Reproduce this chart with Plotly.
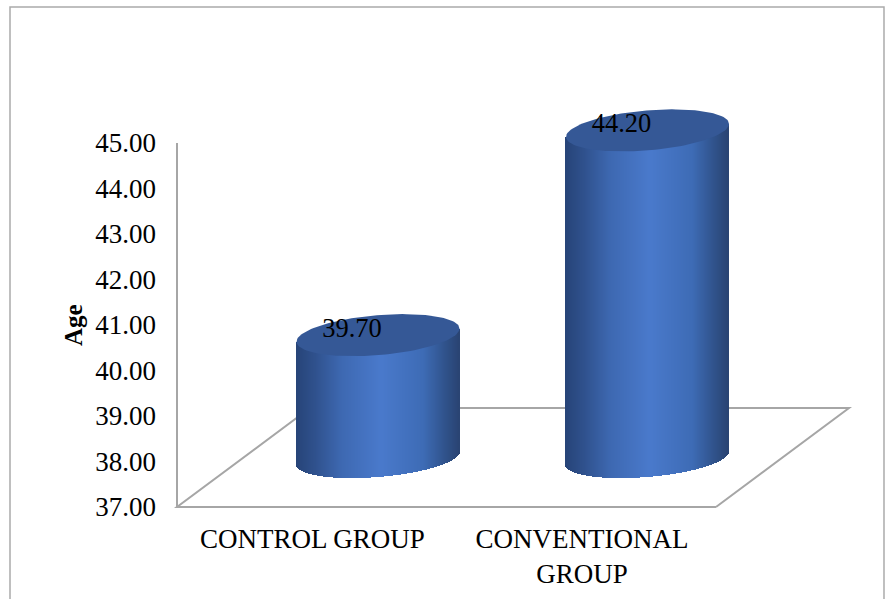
import numpy as np
import plotly.graph_objects as go

categories = ["CONTROL GROUP", "CONVENTIONAL<br>GROUP"]
ages = [39.70, 44.20]
y_ticks = [37, 38, 39, 40, 41, 42, 43, 44, 45]
axis_title = "Age"

W, H = 885, 599
L, R, T, B = 177, 849, 100, 507   # plot area is large enough to hold the cylinders
TICK_TOP = 143
UNIT_X = 269.5
X0 = 312.5
UNIT_Y = (B - TICK_TOP) / 8

depth_dx = (378 - X0) / UNIT_X      # cylinders sit further back than the category axis
depth_dy = 49 / UNIT_Y
half_w = 81.5 / UNIT_X
semi_b = 20 / UNIT_Y
tilt = 6.5 / UNIT_Y

stops = [(0.0, (39, 68, 120)), (0.12, (48, 82, 142)), (0.28, (62, 105, 178)),
         (0.52, (74, 122, 204)), (0.78, (62, 108, 182)), (0.92, (48, 82, 138)), (1.0, (42, 68, 115))]
sp = [s[0] for s in stops]


def shade(t):
    return "rgb(%d,%d,%d)" % tuple(np.interp(t, sp, [s[1][i] for s in stops]) for i in range(3))


fig = go.Figure()
N = 163
for i, val in enumerate(ages):
    cx = i + depth_dx
    u = (np.arange(N) + 0.5) / N * 2 - 1          # -1..1 across the cylinder
    xs = cx + u * half_w
    base_c = y_ticks[0] + depth_dy
    top_c = val + depth_dy
    bottom = base_c + u * tilt - semi_b * 0.95 * np.sqrt(1 - u ** 2)
    top = top_c + u * tilt
    fig.add_trace(go.Bar(
        x=xs, y=top - bottom, base=bottom, width=2 * half_w / N * 1.5,
        marker=dict(color=[shade((v + 1) / 2) for v in u], line=dict(width=0)),
        cliponaxis=False, showlegend=False, hoverinfo="skip"))
    th = np.linspace(0, 2 * np.pi, 120)
    fig.add_trace(go.Scatter(
        x=cx + half_w * np.cos(th),
        y=top_c + tilt * np.cos(th) + semi_b * np.sin(th),
        mode="lines", fill="toself", fillcolor="#355896",
        line=dict(width=0, color="#355896"),
        cliponaxis=False, showlegend=False, hoverinfo="skip"))
    fig.add_trace(go.Scatter(
        x=[cx - 26 / UNIT_X], y=[top_c + 5 / UNIT_Y], text=[f"{val:.2f}"],
        mode="text", textposition="middle center",
        textfont=dict(family="Liberation Serif", size=26.5, color="#000000"),
        cliponaxis=False, showlegend=False, hoverinfo="skip"))


def px(x):
    return (x - L) / (R - L)


def py(y):
    return (B - y) / (B - T)


def pth(pts):
    return "M" + " L".join(f"{px(a):.5f},{py(b):.5f}" for a, b in pts)


GRID = "#a6a6a6"
floor = [(716, 507), (177, 507), (310, 408), (849, 408), (716, 507)]
y_line = [(177, TICK_TOP), (177, 507)]
frame = [(10, 599), (10, 7), (884, 7), (884, 599)]
shapes = [
    dict(type="path", xref="paper", yref="paper", path=pth(floor), layer="below", line=dict(color=GRID, width=2)),
    dict(type="path", xref="paper", yref="paper", path=pth(y_line), layer="below", line=dict(color=GRID, width=2)),
    dict(type="path", xref="paper", yref="paper", path=pth(frame), layer="below", line=dict(color="#ababab", width=1.5)),
]

fig.update_layout(
    width=W, height=H, autosize=False, paper_bgcolor="white", plot_bgcolor="rgba(0,0,0,0)",
    margin=dict(l=L, r=W - R, t=T, b=H - B, pad=0, autoexpand=False),
    barmode="overlay", bargap=0, showlegend=False, shapes=shapes,
    font=dict(family="Liberation Serif", color="#000000"),
    xaxis=dict(range=[(L - X0) / UNIT_X, (R - X0) / UNIT_X], tickmode="array", tickvals=[0, 1],
               ticktext=categories, showgrid=False, zeroline=False, showline=False, automargin=False,
               ticks="", ticklabelstandoff=13, tickfont=dict(size=27)),
    yaxis=dict(range=[37, 37 + (B - T) / UNIT_Y], tickmode="array", tickvals=y_ticks,
               ticktext=[f"{v:.2f}" for v in y_ticks], showgrid=False, zeroline=False, automargin=False,
               showline=False, ticks="", ticklabelstandoff=20, tickfont=dict(size=27)),
    annotations=[dict(text=f"<b>{axis_title}</b>", textangle=-90, showarrow=False,
                      xref="paper", yref="paper", x=px(73), y=py(325),
                      xanchor="center", yanchor="middle", font=dict(size=25))],
)
fig.write_html("out.html", config={"displayModeBar": False},
               post_script="document.body.style.margin='0';")
